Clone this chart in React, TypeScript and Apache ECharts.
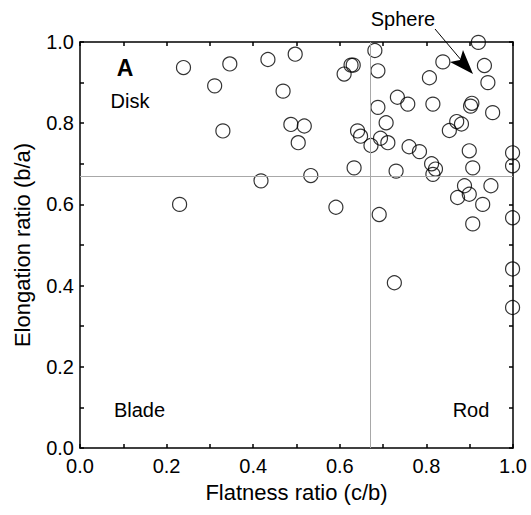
import React, { useEffect, useRef } from "react";
import * as echarts from "echarts";

const flatness: number[] = [
  0.239, 0.311, 0.330, 0.346, 0.230, 0.418, 0.434, 0.469, 0.487, 0.497,
  0.504, 0.518, 0.533, 0.591, 0.610, 0.626, 0.631, 0.633, 0.641, 0.648,
  0.672, 0.681, 0.688, 0.688, 0.691, 0.694, 0.707, 0.711, 0.726, 0.730,
  0.733, 0.757, 0.760, 0.784, 0.807, 0.812, 0.815, 0.821, 0.815, 0.838,
  0.853, 0.870, 0.872, 0.881, 0.888, 0.899, 0.899, 0.902, 0.905, 0.907,
  0.907, 0.920, 0.930, 0.934, 0.942, 0.949, 0.953, 0.999, 0.999, 0.999,
  0.999, 0.999,
];
const elongation: number[] = [
  0.937, 0.892, 0.781, 0.946, 0.600, 0.658, 0.957, 0.879, 0.797, 0.970,
  0.752, 0.793, 0.671, 0.593, 0.921, 0.943, 0.943, 0.690, 0.781, 0.768,
  0.745, 0.979, 0.929, 0.839, 0.575, 0.763, 0.801, 0.752, 0.407, 0.682,
  0.864, 0.847, 0.742, 0.730, 0.912, 0.700, 0.847, 0.687, 0.674, 0.951,
  0.782, 0.804, 0.617, 0.798, 0.646, 0.625, 0.732, 0.842, 0.849, 0.690,
  0.552, 0.999, 0.600, 0.942, 0.900, 0.646, 0.826, 0.727, 0.695, 0.567,
  0.441, 0.346,
];
const threshold = 2 / 3;
const tickLabels = ["0.0", "0.2", "0.4", "0.6", "0.8", "1.0"];

const FONT = "'Liberation Sans', Arial, Helvetica, sans-serif";

export default function App() {
  const ref = useRef<HTMLDivElement>(null);
  useEffect(() => {
    document.body.style.margin = "0";
    if (!ref.current) return;
    const chart = echarts.init(ref.current, null, { renderer: "svg" });
    const data = flatness.map((x, i) => [x, elongation[i]]);
    const fmt = (v: number) => {
      const idx = Math.round(v / 0.2);
      return Math.abs(v - idx * 0.2) < 1e-6 ? tickLabels[idx] : "";
    };
    const axisCommon = {
      type: "value" as const,
      min: 0,
      max: 1,
      interval: 0.2,
      axisLine: { show: true, onZero: false, lineStyle: { color: "#000", width: 1.5 } },
      axisTick: { show: true, inside: true, length: 4, lineStyle: { color: "#000", width: 1.5 } },
      minorTick: { show: true, splitNumber: 2, length: 4, lineStyle: { color: "#000", width: 1.5 } },
      splitLine: { show: false },
    };
    chart.setOption({
      animation: false,
      grid: { left: 80, right: 18, top: 42, bottom: 67, containLabel: false },
      xAxis: [
        {
          ...axisCommon,
          position: "bottom",
          name: "Flatness ratio (c/b)",
          nameLocation: "middle",
          nameGap: 33,
          nameTextStyle: { color: "#000", fontSize: 22, fontFamily: FONT },
          axisLabel: { color: "#000", fontSize: 20, fontFamily: FONT, margin: 8, formatter: fmt },
        },
        {
          ...axisCommon,
          position: "top",
          axisLabel: { show: false },
        },
      ],
      yAxis: [
        {
          ...axisCommon,
          position: "left",
          name: "Elongation ratio (b/a)",
          nameLocation: "middle",
          nameGap: 47,
          nameTextStyle: { color: "#000", fontSize: 22, fontFamily: FONT },
          axisLabel: { color: "#000", fontSize: 20, fontFamily: FONT, margin: 6, formatter: fmt },
        },
        {
          ...axisCommon,
          position: "right",
          axisLabel: { show: false },
        },
      ],
      series: [
        {
          type: "scatter",
          xAxisIndex: 0,
          yAxisIndex: 0,
          data,
          clip: false,
          symbol: "circle",
          symbolSize: 14,
          itemStyle: { color: "rgba(0,0,0,0)", borderColor: "#000", borderWidth: 1.2 },
          markLine: {
            silent: true,
            symbol: "none",
            label: { show: false },
            lineStyle: { color: "#a8a8a8", width: 1, type: "solid" },
            data: [{ xAxis: threshold }, { yAxis: threshold }],
          },
          z: 3,
        },
      ],
      graphic: [
        {
          type: "text",
          x: 125,
          y: 68,
          style: { text: "A", font: `bold 23px ${FONT}`, fill: "#000", textAlign: "center", textVerticalAlign: "middle" },
        },
        {
          type: "text",
          x: 130,
          y: 101,
          style: { text: "Disk", font: `20px ${FONT}`, fill: "#000", textAlign: "center", textVerticalAlign: "middle" },
        },
        {
          type: "text",
          x: 139.5,
          y: 409.5,
          style: { text: "Blade", font: `20px ${FONT}`, fill: "#000", textAlign: "center", textVerticalAlign: "middle" },
        },
        {
          type: "text",
          x: 471,
          y: 409.5,
          style: { text: "Rod", font: `20px ${FONT}`, fill: "#000", textAlign: "center", textVerticalAlign: "middle" },
        },
        {
          type: "text",
          x: 403,
          y: 19,
          style: { text: "Sphere", font: `20px ${FONT}`, fill: "#000", textAlign: "center", textVerticalAlign: "middle" },
        },
        {
          type: "line",
          shape: { x1: 435, y1: 29, x2: 462, y2: 61 },
          style: { stroke: "#000", lineWidth: 1 },
        },
        {
          type: "polygon",
          shape: { points: [[473, 74], [450, 62], [460, 60], [463, 50]] },
          style: { fill: "#000" },
        },
      ],
    });
    return () => chart.dispose();
  }, []);
  return <div ref={ref} style={{ width: 531, height: 515 }} />;
}
